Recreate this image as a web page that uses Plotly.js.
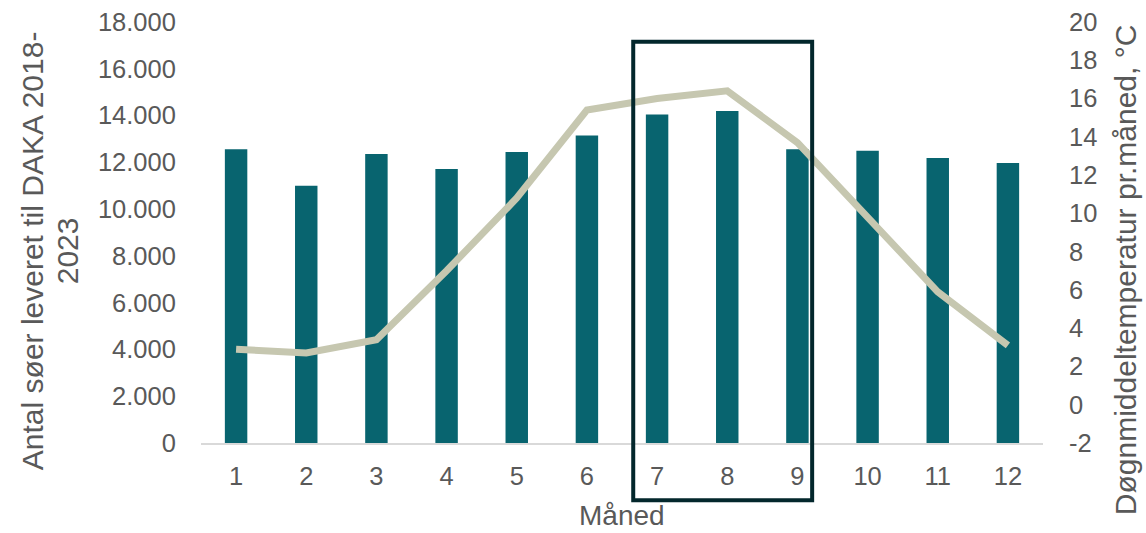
<!DOCTYPE html>
<html>
<head>
<meta charset="utf-8">
<script src="https://cdn.plot.ly/plotly-3.0.1.min.js"></script>
<style>html,body{margin:0;padding:0;background:#fff}#chart{width:1146px;height:533px}</style>
</head>
<body>
<div id="chart"></div>
<script>
const months = [1,2,3,4,5,6,7,8,9,10,11,12];
const monthLabels = ["1","2","3","4","5","6","7","8","9","10","11","12"];
const lakesDelivered = [12560, 11000, 12360, 11710, 12440, 13150, 14050, 14190, 12560, 12490, 12180, 11970];
const meanTemp = [2.9, 2.7, 3.4, 7.0, 10.8, 15.4, 16.0, 16.4, 13.7, 9.8, 5.9, 3.1];
const leftTicks = [0,2000,4000,6000,8000,10000,12000,14000,16000,18000];
const leftTickText = ["0","2.000","4.000","6.000","8.000","10.000","12.000","14.000","16.000","18.000"];
const rightTicks = [-2,0,2,4,6,8,10,12,14,16,18,20];
const rightTickText = ["-2","0","2","4","6","8","10","12","14","16","18","20"];
const leftTitle1 = "Antal søer leveret til DAKA 2018-";
const leftTitle2 = "2023";
const rightTitle = "Døgnmiddeltemperatur pr.måned, °C";
const xTitle = "Måned";

const font = "Liberation Sans, Arial, sans-serif";
const tickColor = "#595959";

const traces = [
  {type:'bar', x:months, y:lakesDelivered, marker:{color:'#08646f'}, width:0.32, yaxis:'y'},
  {type:'scatter', mode:'lines', x:months, y:meanTemp, yaxis:'y2', line:{color:'#c6c7b0', width:7}}
];

const tf = {size:25.5, color:tickColor, family:font};
const titleFont = {size:30, color:tickColor, family:font};

const layout = {
  width:1146, height:533,
  margin:{l:201, r:103, t:22, b:90},
  paper_bgcolor:'#fff', plot_bgcolor:'#fff',
  showlegend:false,
  font:{family:font, color:tickColor, size:21},
  xaxis:{
    range:[0.5,12.5], tickvals:months, ticktext:monthLabels,
    showgrid:false, zeroline:false, showline:true, linecolor:'#d9d9d9', linewidth:2,
    ticks:'outside', ticklen:9, tickcolor:'rgba(0,0,0,0)', tickfont:tf
  },
  yaxis:{
    range:[0,18000], tickvals:leftTicks, ticktext:leftTickText,
    showgrid:false, zeroline:false, showline:false,
    ticks:'outside', ticklen:19, tickcolor:'rgba(0,0,0,0)', tickfont:tf
  },
  yaxis2:{
    overlaying:'y', side:'right', range:[-2,20], tickvals:rightTicks, ticktext:rightTickText,
    showgrid:false, zeroline:false, showline:false,
    ticks:'outside', ticklen:20, tickcolor:'rgba(0,0,0,0)', tickfont:tf
  },
  annotations:[
    {text:leftTitle1, xref:'paper', yref:'paper', x:-0.2007, y:0.4557, xanchor:'center', yanchor:'middle', textangle:-90, showarrow:false, font:titleFont, borderpad:0},
    {text:leftTitle2, xref:'paper', yref:'paper', x:-0.159, y:0.4557, xanchor:'center', yanchor:'middle', textangle:-90, showarrow:false, font:titleFont, borderpad:0},
    {text:rightTitle, xref:'paper', yref:'paper', x:1.0974, y:0.4105, xanchor:'center', yanchor:'middle', textangle:-90, showarrow:false, font:titleFont, borderpad:0},
    {text:xTitle, xref:'paper', yref:'paper', x:0.5, y:-0.1719, xanchor:'center', yanchor:'middle', showarrow:false, font:{size:28, color:tickColor, family:font}, borderpad:0}
  ],
  shapes:[
    {type:'rect', xref:'x', yref:'paper', x0:6.66, x1:9.21, y0:-0.136, y1:0.953,
     line:{color:'#03272c', width:4}, fillcolor:'rgba(0,0,0,0)', layer:'above'}
  ]
};

Plotly.newPlot('chart', traces, layout, {displayModeBar:false, staticPlot:true});
</script>
</body>
</html>
